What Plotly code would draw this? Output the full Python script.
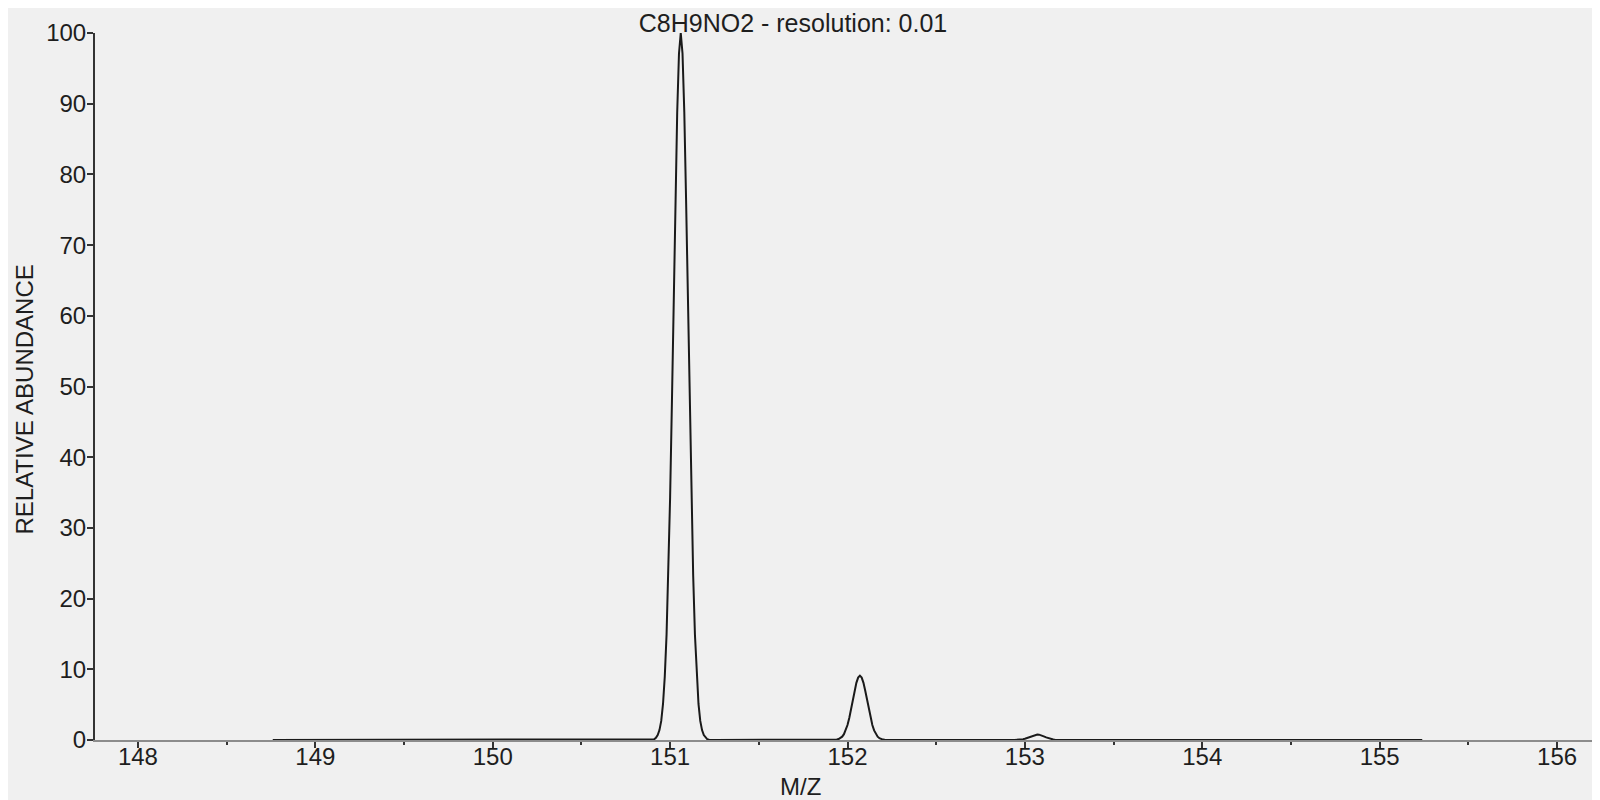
import plotly.graph_objects as go

# perfil isotopico (m/z x abundancia relativa)
baseline_mz = [148.76, 150.90, 151.26, 151.90, 152.26, 152.94, 153.20, 155.24]

peak_151_mz = [150.91, 150.92, 150.93, 150.94, 150.95, 150.96, 150.97, 150.98, 150.99,
               151.00, 151.01, 151.02, 151.03, 151.04, 151.05, 151.06, 151.07, 151.08,
               151.09, 151.10, 151.11, 151.12, 151.13, 151.14, 151.15, 151.16, 151.17,
               151.18, 151.19, 151.20, 151.21, 151.22, 151.23, 151.24, 151.25]
peak_151_ab = [0.1, 0.3, 0.7, 1.4, 2.7, 5.1, 9.0, 14.9, 23.3,
               34.3, 47.5, 62.1, 76.5, 88.8, 97.1, 100.0, 97.1, 88.8,
               76.5, 62.1, 47.5, 34.3, 23.3, 14.9, 9.0, 5.1, 2.7,
               1.4, 0.7, 0.3, 0.1, 0.05, 0.0, 0.0, 0.0]

peak_152_mz = [151.92, 151.93, 151.94, 151.95, 151.96, 151.97, 151.98, 151.99, 152.00,
               152.01, 152.02, 152.03, 152.04, 152.05, 152.06, 152.07, 152.08, 152.09,
               152.10, 152.11, 152.12, 152.13, 152.14, 152.15, 152.16, 152.17, 152.18,
               152.19, 152.20, 152.21, 152.22, 152.23, 152.24]
peak_152_ab = [0.02, 0.03, 0.06, 0.13, 0.25, 0.47, 0.82, 1.36, 2.12,
               3.12, 4.33, 5.65, 6.96, 8.08, 8.83, 9.10, 8.83, 8.08,
               6.96, 5.65, 4.33, 3.12, 2.12, 1.36, 0.82, 0.47, 0.25,
               0.13, 0.06, 0.03, 0.02, 0.0, 0.0]

peak_153_mz = [152.96, 152.97, 152.98, 152.99, 153.00, 153.01, 153.02, 153.03,
               153.04, 153.05, 153.06, 153.07, 153.08, 153.09, 153.10, 153.11,
               153.12, 153.13, 153.14, 153.15, 153.16, 153.17, 153.18]
peak_153_ab = [0.02, 0.04, 0.07, 0.12, 0.18, 0.27, 0.37, 0.48,
               0.60, 0.69, 0.76, 0.78, 0.76, 0.69, 0.60, 0.48,
               0.37, 0.27, 0.18, 0.12, 0.07, 0.04, 0.02]

x_ticks = [148, 149, 150, 151, 152, 153, 154, 155, 156]
y_ticks = [0, 10, 20, 30, 40, 50, 60, 70, 80, 90, 100]

FONTE = dict(family='Liberation Sans, Arial, sans-serif', size=24, color='#1e1e1e')
FUNDO = '#f0f0f0'


def montar_curva():
    # junta linha de base e os tres picos numa unica curva ordenada
    pontos = [(m, 0.0) for m in baseline_mz]
    pontos += list(zip(peak_151_mz, peak_151_ab))
    pontos += list(zip(peak_152_mz, peak_152_ab))
    pontos += list(zip(peak_153_mz, peak_153_ab))
    pontos.sort(key=lambda p: p[0])
    return [p[0] for p in pontos], [p[1] for p in pontos]


def gerar_espectro():
    mz, ab = montar_curva()

    fig = go.Figure()
    fig.add_trace(go.Scatter(
        x=mz, y=ab, mode='lines',
        line=dict(color='#1a1a1a', width=2),
        cliponaxis=False, showlegend=False,
    ))

    # a pagina tem 8px de margem no body, por isso tudo fica 8px deslocado
    fig.update_layout(
        width=1600, height=800,
        paper_bgcolor=FUNDO, plot_bgcolor=FUNDO,
        font=FONTE,
        margin=dict(l=87, r=8, t=25, b=68),
        title=dict(text='C8H9NO2 - resolution: 0.01', x=785 / 1600, xref='container',
                   y=1 - 6 / 800, yref='container', yanchor='top', xanchor='center',
                   pad=dict(t=0, b=0), font=dict(FONTE, size=25)),
        annotations=[
            dict(text='M/Z', xref='paper', yref='paper', x=(792 - 87) / 1505,
                 y=-(778 - 732) / 707, xanchor='center', yanchor='middle',
                 showarrow=False, font=FONTE),
            dict(text='RELATIVE ABUNDANCE', xref='paper', yref='paper',
                 x=-87 / 1505, y=(732 - 392) / 707, textangle=-90,
                 xanchor='left', yanchor='middle', showarrow=False, font=FONTE),
        ],
    )

    fig.update_xaxes(
        range=[147.758, 156.242], tickvals=x_ticks, ticktext=[str(t) for t in x_ticks],
        showgrid=False, zeroline=False,
        showline=True, linecolor='#8c8c8c', linewidth=2,
        ticks='outside', ticklen=6, tickwidth=1.5, tickcolor='#333333',
        ticklabelstandoff=-12,
        minor=dict(dtick=0.5, tick0=0, ticks='outside', ticklen=3, tickwidth=1.5,
                   tickcolor='#333333', showgrid=False),
    )
    fig.update_yaxes(
        range=[0, 100], tickvals=y_ticks,
        showgrid=False, zeroline=False,
        showline=True, linecolor='#333333', linewidth=2,
        ticks='outside', ticklen=6, tickwidth=1.5, tickcolor='#333333',
        ticklabelstandoff=-4,
    )

    fig.write_html('out.html')


if __name__ == '__main__':
    gerar_espectro()
